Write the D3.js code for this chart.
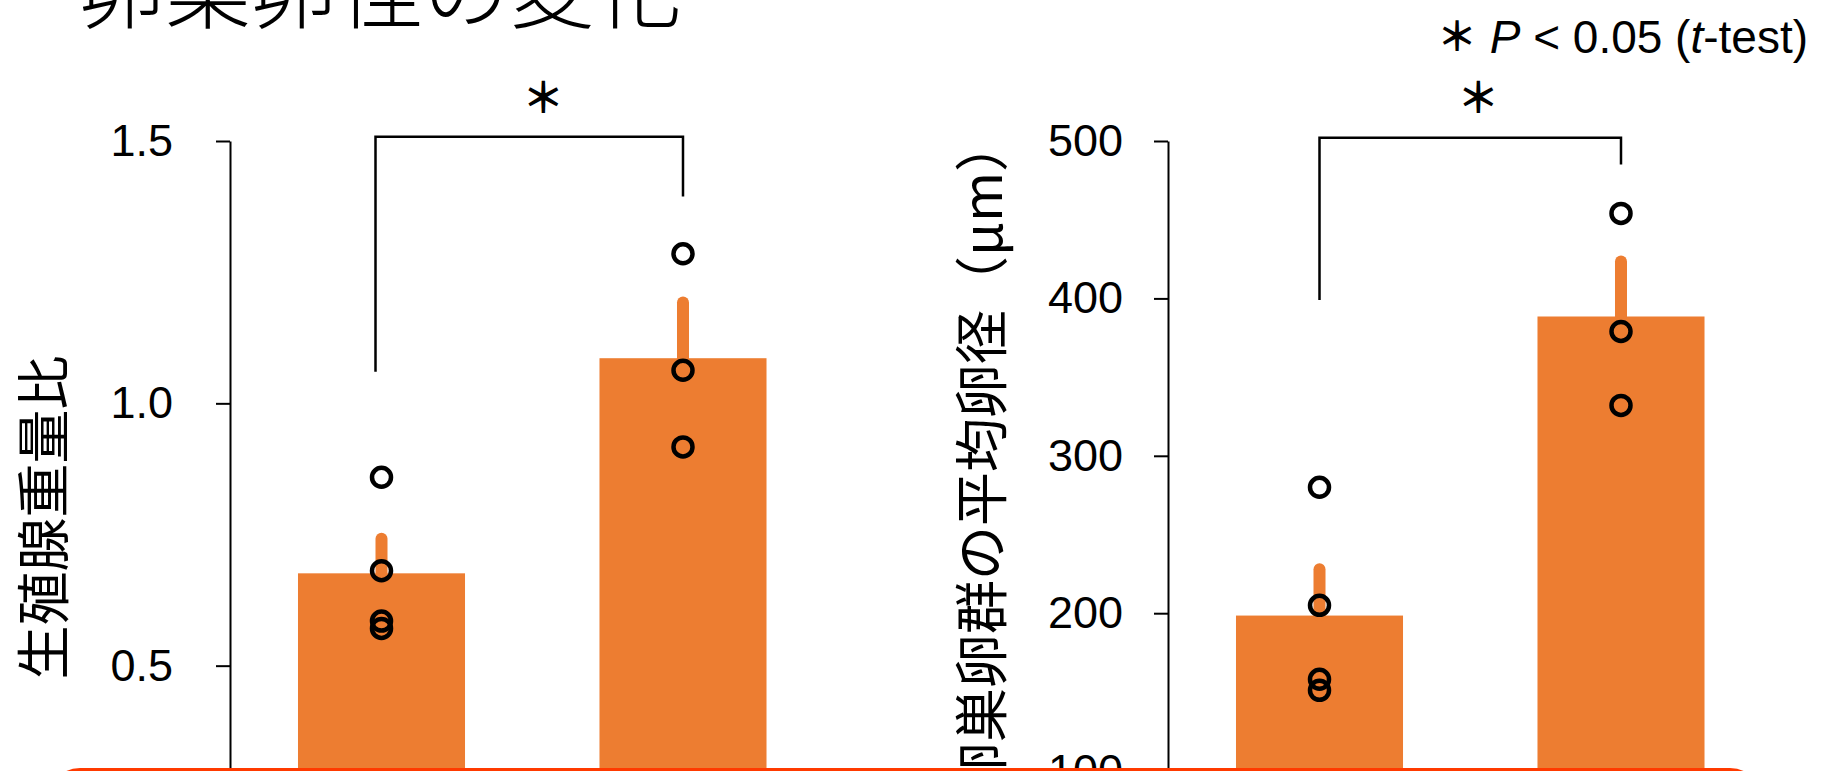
<!DOCTYPE html>
<html><head><meta charset="utf-8">
<script src="https://cdn.jsdelivr.net/npm/d3@7"></script>
<style>body{margin:0;background:#fff} svg{display:block}</style>
</head><body>
<script>
// ---- data ----
const categories = ["群1", "群2"];               // group names (cut off in the original, not drawn)
const gonadMeans = [0.676, 1.086];
const gonadSE = [0.066, 0.106];
const gonadPoints = [[0.859, 0.681, 0.585, 0.571], [1.285, 1.063, 0.917]];
const eggMeans = [198.5, 388.5];
const eggSE = [29.5, 35];
const eggPoints = [[280, 205, 158, 151], [454, 379, 332]];
const gonadTicks = [0, 0.5, 1.0, 1.5];
const eggTicks = [0, 100, 200, 300, 400, 500];
const gonadBracket = [1.508, 1.06, 1.394];   // top, left-leg end, right-leg end
const eggBracket = [502, 399, 485];
const titleText = "卵巣卵径の変化";
const gonadLabel = "生殖腺重量比";
const eggLabel = "卵巣卵群の平均卵径（μm）";
const sigMark = "＊";

// ---- layout ----
const W = 1824, H = 771;
const ORANGE = "#ED7D31";
const CJK = "'Noto Sans CJK JP', sans-serif";
const LAT = "'Liberation Sans', Arial, sans-serif";

const svg = d3.select("body").append("svg").attr("width", W).attr("height", H)
  .style("background", "#fff");

const panels = [
  {axisX: 230, means: gonadMeans, se: gonadSE, pts: gonadPoints, ticks: gonadTicks,
   domain: [0, 1.5], fmt: d3.format(".1f"), pad: 43, label: gonadLabel,
   labelX: 40, labelY: 517.5, anchor: "middle", bracket: gonadBracket, legDx: [-6, 0], starDx: 14},
  {axisX: 1168, means: eggMeans, se: eggSE, pts: eggPoints, ticks: eggTicks,
   domain: [0, 500], fmt: d3.format("d"), pad: 31, label: eggLabel,
   labelX: 978.5, labelY: 796, anchor: "start", bracket: eggBracket, legDx: [0, 0], starDx: 8}
];

panels.forEach(p => {
  const y = d3.scaleLinear().domain(p.domain).range([928, 141]);
  const x = d3.scaleBand().domain(categories).range([p.axisX, p.axisX + 604.5])
    .paddingInner(0.446).paddingOuter(0.2255);
  const g = svg.append("g");
  const cx = c => x(c) + x.bandwidth() / 2;

  // bars
  g.selectAll("rect.bar").data(categories).join("rect")
    .attr("x", c => x(c)).attr("width", x.bandwidth())
    .attr("y", (c, i) => y(p.means[i]))
    .attr("height", (c, i) => y(0) - y(p.means[i]))
    .attr("fill", ORANGE);

  // error bars (upper half)
  g.selectAll("line.err").data(categories).join("line")
    .attr("x1", cx).attr("x2", cx)
    .attr("y1", (c, i) => y(p.means[i]))
    .attr("y2", (c, i) => y(p.means[i] + p.se[i]))
    .attr("stroke", ORANGE).attr("stroke-width", 12).attr("stroke-linecap", "round");

  // individual points
  categories.forEach((c, i) => {
    g.selectAll(null).data(p.pts[i]).join("circle")
      .attr("cx", cx(c)).attr("cy", d => y(d)).attr("r", 9.5)
      .attr("fill", "none").attr("stroke", "#000").attr("stroke-width", 4.5);
  });

  // axis
  const ax = g.append("g").attr("transform", `translate(${p.axisX},0)`)
    .call(d3.axisLeft(y).tickValues(p.ticks).tickSize(14).tickSizeOuter(0)
      .tickPadding(p.pad).tickFormat(p.fmt));
  ax.selectAll("path,line").attr("stroke", "#000").attr("stroke-width", 2);
  ax.selectAll("text").attr("fill", "#000").style("font-family", LAT).style("font-size", "45px");

  // axis title
  g.append("text")
    .attr("transform", `translate(${p.labelX},${p.labelY}) rotate(-90)`)
    .attr("text-anchor", p.anchor).attr("dominant-baseline", "central")
    .style("font-family", CJK).style("font-size", "54px").attr("fill", "#000")
    .text(p.label);

  // significance bracket
  const xl = cx(categories[0]) + p.legDx[0], xr = cx(categories[1]) + p.legDx[1];
  const [bt, bl, br] = p.bracket;
  g.append("path")
    .attr("d", `M${xl},${y(bl)}V${y(bt)}H${xr}V${y(br)}`)
    .attr("fill", "none").attr("stroke", "#000").attr("stroke-width", 2.5);
  g.append("text")
    .attr("x", (xl + xr) / 2 + p.starDx).attr("y", 94)
    .attr("text-anchor", "middle").attr("dominant-baseline", "central")
    .style("font-family", CJK).style("font-size", "42px").style("font-weight", "bold")
    .text(sigMark);
});

// title (cut at the top in the original)
svg.append("text").attr("x", 79).attr("y", 22)
  .style("font-family", CJK).style("font-size", "86px").style("font-weight", 300)
  .attr("fill", "#000").text(titleText);

// note
const note = svg.append("text").attr("x", 1808).attr("y", 53).attr("text-anchor", "end")
  .style("font-family", LAT).style("font-size", "46px").attr("fill", "#000");
note.append("tspan").style("font-family", CJK).style("font-size", "40px").style("font-weight", "bold")
  .attr("dy", -2).text(sigMark);
note.append("tspan").attr("dy", 2).text(" ");
note.append("tspan").style("font-style", "italic").text("P");
note.append("tspan").text(" < 0.05 (");
note.append("tspan").style("font-style", "italic").text("t");
note.append("tspan").text("-test)");

// red frame peeking in at the bottom edge
svg.append("rect").attr("x", 50).attr("y", 769.5).attr("width", 1710).attr("height", 80)
  .attr("rx", 30).attr("fill", "none").attr("stroke", "#FF3A00").attr("stroke-width", 3);
</script>
</body></html>
